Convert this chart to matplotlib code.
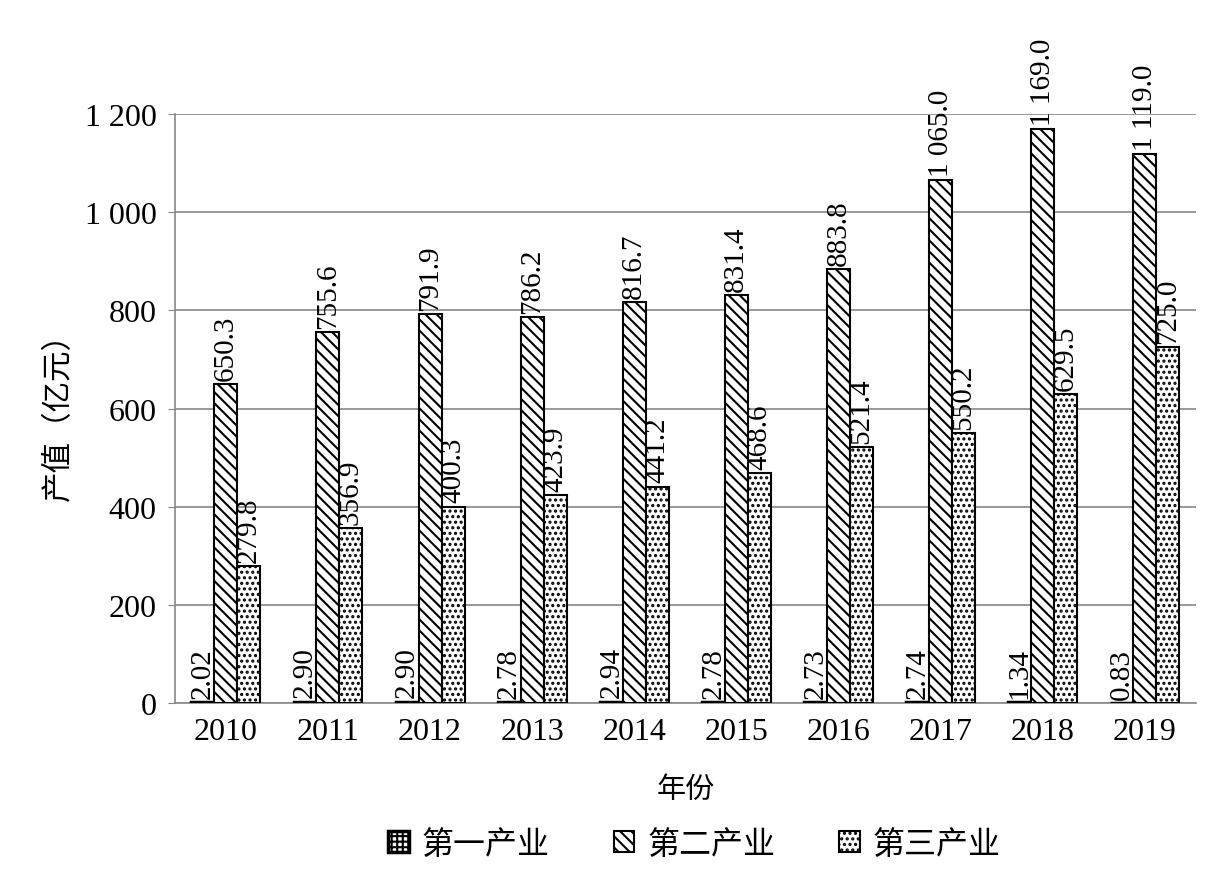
import matplotlib
matplotlib.use('Agg')
import matplotlib.pyplot as plt
import numpy as np

plt.rcParams['font.family'] = ['Liberation Serif', 'Noto Sans CJK SC', 'DejaVu Sans']
plt.rcParams['hatch.linewidth'] = 1.5

years = ['2010', '2011', '2012', '2013', '2014', '2015', '2016', '2017', '2018', '2019']
primary = [2.02, 2.90, 2.90, 2.78, 2.94, 2.78, 2.73, 2.74, 1.34, 0.83]
secondary = [650.3, 755.6, 791.9, 786.2, 816.7, 831.4, 883.8, 1065.0, 1169.0, 1119.0]
tertiary = [279.8, 356.9, 400.3, 423.9, 441.2, 468.6, 521.4, 550.2, 629.5, 725.0]
series_names = ['第一产业', '第二产业', '第三产业']
yticks = [0, 200, 400, 600, 800, 1000, 1200]


def fmt_num(v, dec):
    s = f'{v:,.{dec}f}'
    return s.replace(',', ' ')


fig = plt.figure(figsize=(12.14, 8.79), dpi=100)
ax = fig.add_axes([0.144, 0.199, 0.841, 0.670])

x = np.arange(len(years))
w = 0.225
# hatch, decimals, edge width
styles = [('+++', 2, 2.5), ('\\\\\\', 1, 1.5), ('...', 1, 1.5)]
data = [primary, secondary, tertiary]
for i, (vals, name, (hatch, dec, lw)) in enumerate(zip(data, series_names, styles)):
    pos = x + (i - 1) * w
    ax.bar(pos, vals, width=w, facecolor='white', edgecolor='black',
           hatch=hatch, linewidth=lw, label=name, zorder=3)
    for xp, v in zip(pos, vals):
        ax.annotate(fmt_num(v, dec), (xp, v), xytext=(0, 3),
                    textcoords='offset points', rotation=90,
                    ha='center', va='bottom', fontsize=21,
                    family='Liberation Serif', zorder=4, annotation_clip=False)

ax.set_xlim(-0.5, len(years) - 0.5)
ax.set_ylim(0, 1200)
ax.set_xticks(x)
ax.set_xticklabels(years, fontsize=23)
ax.set_yticks(yticks)
ax.set_yticklabels([fmt_num(t, 0) for t in yticks], fontsize=23)
ax.tick_params(axis='x', length=0, pad=10)
ax.tick_params(axis='y', length=5, color='#888888', pad=8)
ax.grid(axis='y', color='#888888', linewidth=1.2, zorder=0)
for s in ['top', 'right']:
    ax.spines[s].set_visible(False)
for s in ['left', 'bottom']:
    ax.spines[s].set_color('#888888')
    ax.spines[s].set_linewidth(1.2)
    ax.spines[s].set_zorder(2)

ax.set_xlabel('年份', fontsize=21, family=['Noto Sans CJK SC'], labelpad=20)
ax.set_ylabel('产值（亿元）', fontsize=22, family=['Noto Sans CJK SC'], labelpad=8)

leg = fig.legend(loc='center', bbox_to_anchor=(0.572, 0.039), ncol=3, frameon=False,
                 prop={'family': 'Noto Sans CJK SC', 'size': 23},
                 handlelength=0.65, handleheight=0.65, handletextpad=0.4,
                 columnspacing=2.0)

fig.savefig('out.png', dpi=100)
